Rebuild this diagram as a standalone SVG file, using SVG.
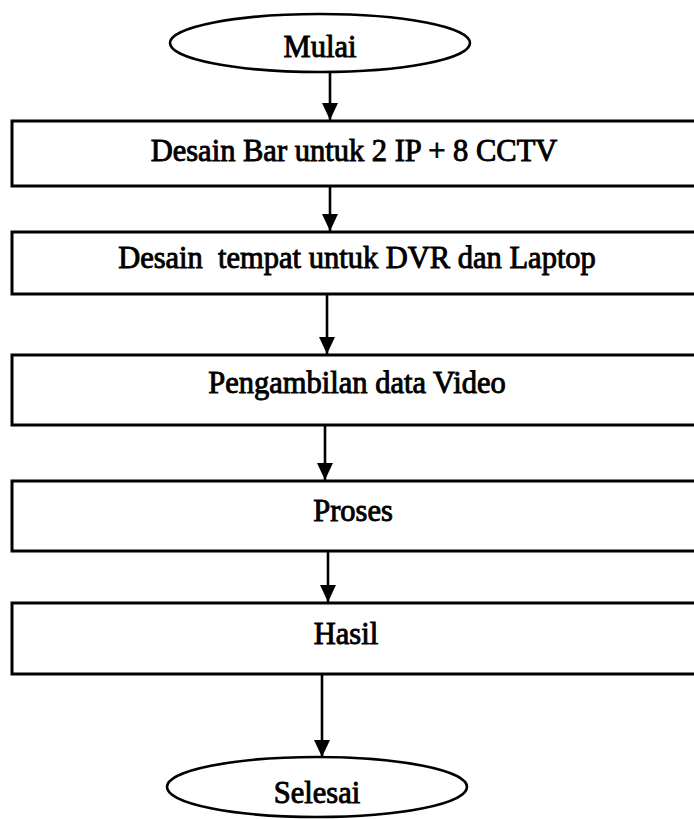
<svg xmlns="http://www.w3.org/2000/svg" width="694" height="819" viewBox="0 0 694 819">
<style>
.box{fill:#fff;stroke:#000;stroke-width:3}
.term{fill:#fff;stroke:#000;stroke-width:2.6}
.lbl{font-family:"Liberation Serif","Times New Roman",serif;font-size:30.5px;fill:#000;stroke:#000;stroke-width:0.9;text-anchor:middle}
.edge{stroke:#000;stroke-width:2.6;fill:none;marker-end:url(#ah)}
</style>
<defs>
<marker id="ah" markerUnits="userSpaceOnUse" markerWidth="18" markerHeight="18" viewBox="0 0 18 18" refX="17" refY="8.5" orient="auto">
<path d="M0,0.5 L17,8.5 L0,16.5 Z" fill="#000"/>
</marker>
</defs>
<rect width="694" height="819" fill="#fff"/>
<g id="mulai"><ellipse class="term" cx="320" cy="43" rx="150" ry="29"/><text class="lbl" x="320" y="57">Mulai</text></g>
<g id="n1"><rect class="box" x="12" y="121" width="700" height="65"/><text class="lbl" x="354" y="161">Desain Bar untuk 2 IP + 8 CCTV</text></g>
<g id="n2"><rect class="box" x="12" y="232" width="700" height="62"/><text class="lbl" x="357" y="268" xml:space="preserve">Desain  tempat untuk DVR dan Laptop</text></g>
<g id="n3"><rect class="box" x="12" y="355" width="700" height="70"/><text class="lbl" x="357" y="393">Pengambilan data Video</text></g>
<g id="n4"><rect class="box" x="12" y="481" width="700" height="70"/><text class="lbl" x="353" y="521">Proses</text></g>
<g id="n5"><rect class="box" x="12" y="603" width="700" height="71"/><text class="lbl" x="346" y="644">Hasil</text></g>
<g id="selesai"><ellipse class="term" cx="317" cy="787" rx="150" ry="30"/><text class="lbl" x="317" y="803">Selesai</text></g>
<g id="connectors">
<line class="edge" x1="330" y1="72" x2="330" y2="120"/>
<line class="edge" x1="330" y1="186" x2="330" y2="231"/>
<line class="edge" x1="327" y1="294" x2="327" y2="354"/>
<line class="edge" x1="325" y1="425" x2="325" y2="480"/>
<line class="edge" x1="328" y1="551" x2="328" y2="602"/>
<line class="edge" x1="322" y1="674" x2="322" y2="757"/>
</g>
</svg>
